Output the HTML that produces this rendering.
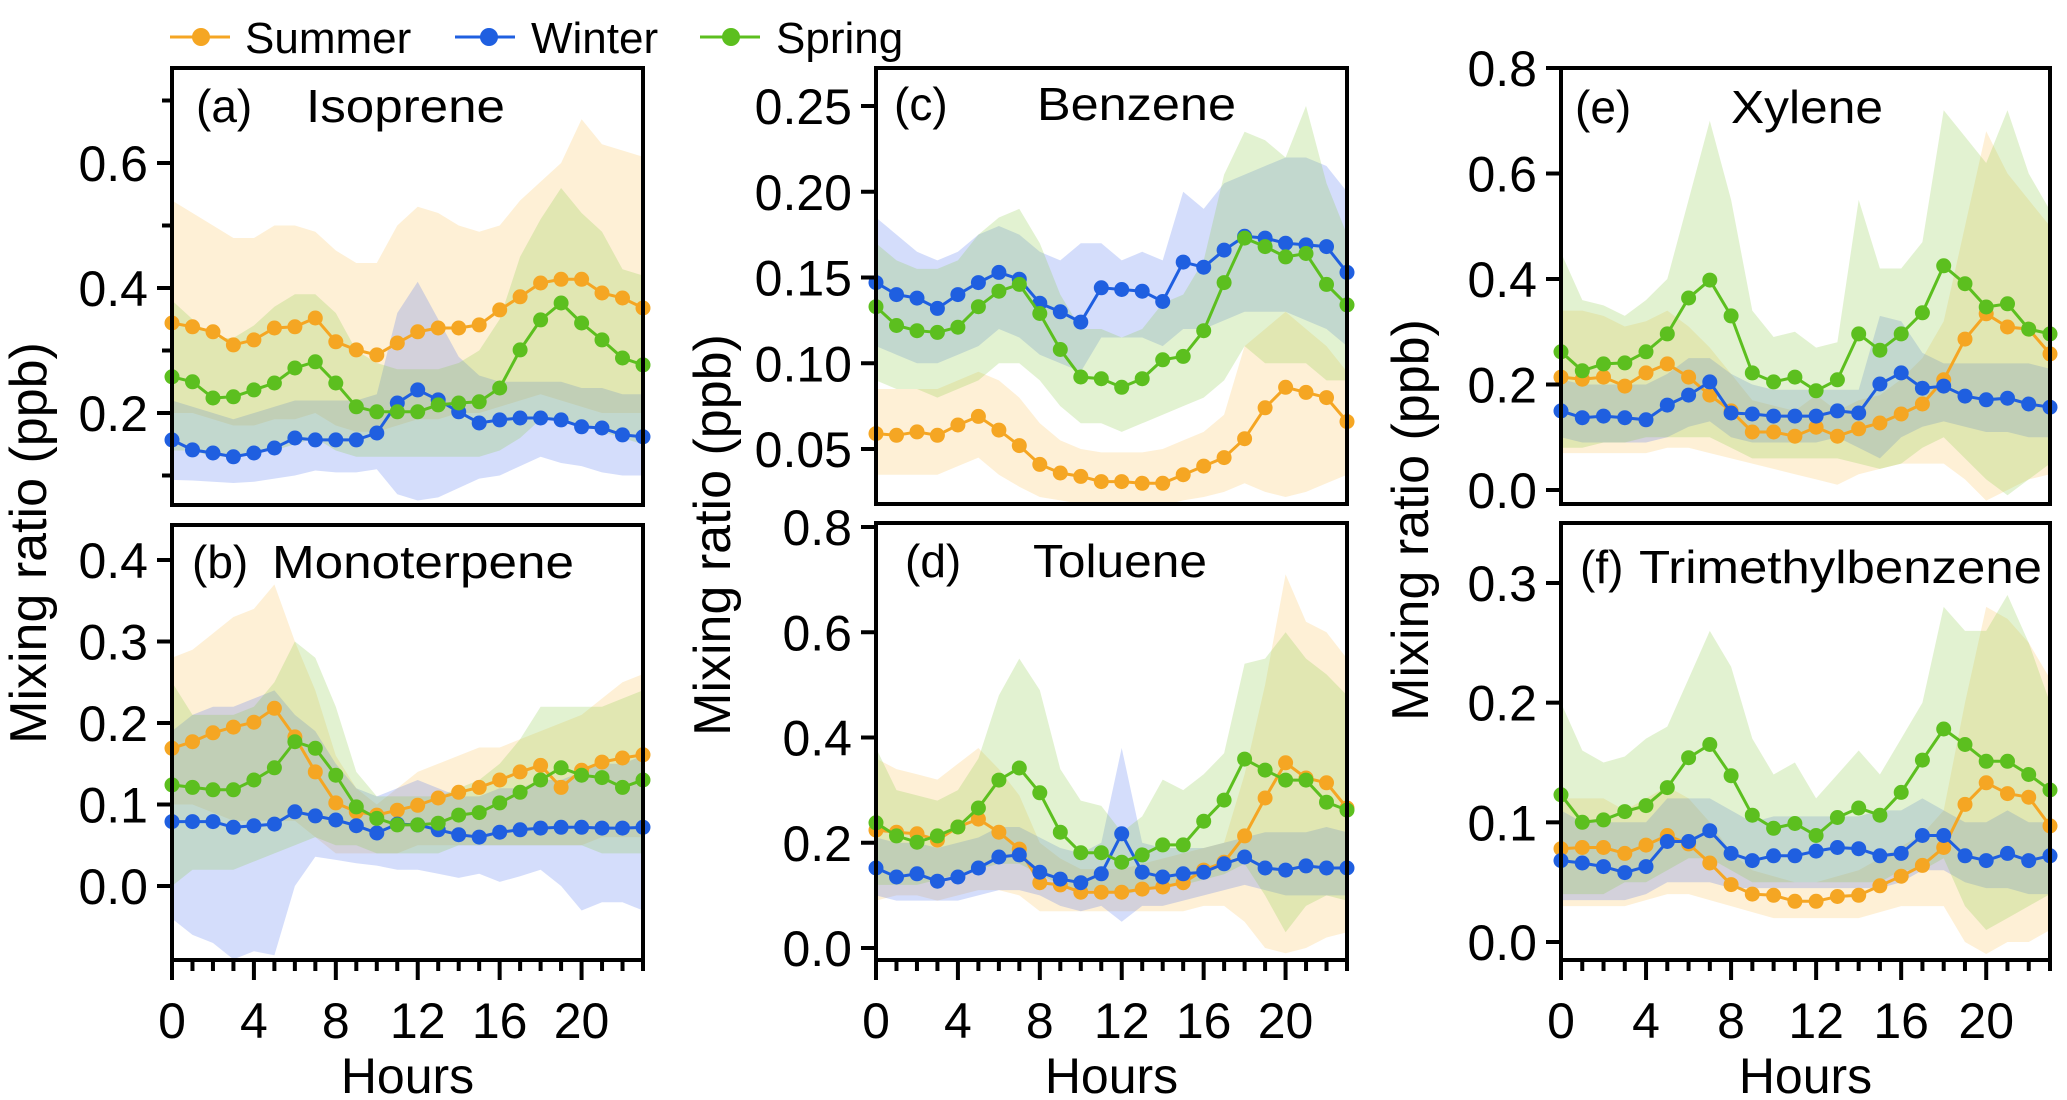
<!DOCTYPE html>
<html><head><meta charset="utf-8"><style>
html,body{margin:0;padding:0;background:#fff;}
svg{display:block;font-family:"Liberation Sans",Arial,sans-serif;}
</style></head><body>
<svg id="chart" width="2067" height="1100" viewBox="0 0 2067 1100" xmlns="http://www.w3.org/2000/svg">
<g id="legend">
  <g>
    <line x1="170" y1="37" x2="230" y2="37" stroke="#f5a623" stroke-width="3"/><circle cx="201" cy="37" r="9" fill="#f5a623"/>
    <text x="245" y="53" font-size="44">Summer</text></g>
  <g>
    <line x1="455" y1="37" x2="515" y2="37" stroke="#1f5fe0" stroke-width="3"/><circle cx="489" cy="37" r="9" fill="#1f5fe0"/>
    <text x="531" y="53" font-size="44">Winter</text></g>
  <g>
    <line x1="700" y1="37" x2="760" y2="37" stroke="#5cbf1f" stroke-width="3"/><circle cx="731" cy="37" r="9" fill="#5cbf1f"/>
    <text x="776" y="53" font-size="44">Spring</text></g>
</g>
<g id="plots"></g>
</svg>
<script>
const hours = [0,1,2,3,4,5,6,7,8,9,10,11,12,13,14,15,16,17,18,19,20,21,22,23];
const xTickLabels = ["0","4","8","12","16","20"];
const seriesNames = ["Summer","Winter","Spring"];

// (a) Isoprene
const isoSummer = [0.344,0.338,0.330,0.309,0.317,0.336,0.338,0.352,0.314,0.301,0.293,0.312,0.330,0.336,0.336,0.341,0.365,0.386,0.408,0.414,0.414,0.392,0.384,0.368];
const isoSummerHi = [0.54,0.52,0.50,0.48,0.48,0.50,0.50,0.49,0.46,0.44,0.44,0.50,0.53,0.52,0.50,0.49,0.50,0.54,0.57,0.60,0.67,0.63,0.62,0.61];
const isoSummerLo = [0.20,0.20,0.19,0.18,0.18,0.19,0.19,0.20,0.18,0.17,0.17,0.18,0.19,0.19,0.20,0.20,0.21,0.22,0.23,0.22,0.21,0.20,0.20,0.20];
const isoWinter = [0.157,0.141,0.136,0.130,0.136,0.144,0.160,0.157,0.157,0.157,0.168,0.216,0.237,0.221,0.202,0.184,0.189,0.192,0.192,0.189,0.178,0.176,0.165,0.162];
const isoWinterHi = [0.22,0.21,0.20,0.19,0.20,0.21,0.22,0.22,0.22,0.22,0.23,0.36,0.41,0.35,0.29,0.26,0.25,0.25,0.25,0.25,0.24,0.24,0.23,0.23];
const isoWinterLo = [0.093,0.092,0.090,0.088,0.090,0.095,0.100,0.108,0.105,0.105,0.11,0.07,0.06,0.065,0.08,0.095,0.10,0.115,0.13,0.12,0.115,0.105,0.10,0.10];
const isoSpring = [0.258,0.250,0.224,0.226,0.237,0.248,0.272,0.282,0.248,0.210,0.202,0.202,0.202,0.213,0.216,0.218,0.240,0.301,0.349,0.376,0.344,0.317,0.288,0.277];
const isoSpringHi = [0.38,0.35,0.32,0.32,0.34,0.37,0.39,0.39,0.36,0.30,0.28,0.27,0.27,0.27,0.28,0.30,0.35,0.45,0.51,0.56,0.52,0.49,0.43,0.42];
const isoSpringLo = [0.14,0.14,0.13,0.13,0.14,0.14,0.15,0.16,0.14,0.13,0.13,0.13,0.13,0.13,0.13,0.13,0.14,0.16,0.19,0.19,0.18,0.17,0.16,0.15];

// (b) Monoterpene
const monoSummer = [0.169,0.177,0.188,0.195,0.201,0.218,0.183,0.140,0.102,0.091,0.087,0.093,0.099,0.108,0.115,0.121,0.130,0.140,0.148,0.121,0.142,0.152,0.157,0.161];
const monoSummerHi = [0.28,0.29,0.31,0.33,0.34,0.37,0.30,0.24,0.16,0.12,0.10,0.12,0.14,0.15,0.16,0.17,0.17,0.18,0.19,0.20,0.21,0.23,0.25,0.26];
const monoSummerLo = [0.10,0.10,0.09,0.08,0.08,0.08,0.08,0.06,0.04,0.04,0.04,0.04,0.05,0.05,0.05,0.05,0.05,0.05,0.05,0.05,0.05,0.06,0.06,0.06];
const monoWinter = [0.079,0.079,0.079,0.072,0.074,0.076,0.091,0.086,0.081,0.074,0.065,0.076,0.075,0.069,0.063,0.060,0.066,0.069,0.071,0.072,0.072,0.071,0.071,0.072];
const monoWinterHi = [0.19,0.21,0.22,0.22,0.23,0.24,0.21,0.19,0.15,0.12,0.11,0.12,0.13,0.12,0.11,0.11,0.12,0.12,0.13,0.13,0.14,0.15,0.15,0.16];
const monoWinterLo = [-0.04,-0.06,-0.07,-0.09,-0.08,-0.085,0.0,0.036,0.032,0.028,0.025,0.02,0.02,0.015,0.01,0.015,0.005,0.012,0.02,0.0,-0.03,-0.02,-0.02,-0.03];
const monoSpring = [0.124,0.121,0.118,0.118,0.130,0.145,0.177,0.169,0.136,0.097,0.083,0.075,0.075,0.077,0.087,0.090,0.102,0.115,0.130,0.145,0.136,0.133,0.121,0.130];
const monoSpringHi = [0.25,0.21,0.21,0.21,0.22,0.25,0.30,0.28,0.22,0.14,0.11,0.11,0.11,0.11,0.12,0.13,0.15,0.18,0.22,0.22,0.22,0.22,0.23,0.24];
const monoSpringLo = [0.0,0.02,0.02,0.02,0.03,0.04,0.05,0.06,0.05,0.05,0.04,0.04,0.04,0.04,0.05,0.05,0.05,0.05,0.05,0.05,0.05,0.04,0.04,0.04];

// (c) Benzene
const benSummer = [0.059,0.058,0.060,0.058,0.064,0.069,0.061,0.052,0.041,0.036,0.034,0.031,0.031,0.030,0.030,0.035,0.040,0.045,0.056,0.074,0.086,0.083,0.080,0.066];
const benSummerHi = [0.085,0.085,0.085,0.085,0.09,0.095,0.09,0.08,0.065,0.055,0.05,0.048,0.048,0.048,0.05,0.055,0.06,0.07,0.11,0.12,0.13,0.12,0.11,0.095];
const benSummerLo = [0.035,0.035,0.035,0.035,0.04,0.045,0.035,0.028,0.022,0.02,0.018,0.016,0.016,0.016,0.017,0.02,0.022,0.025,0.03,0.025,0.022,0.025,0.03,0.035];
const benWinter = [0.147,0.140,0.138,0.132,0.140,0.147,0.153,0.149,0.135,0.130,0.124,0.144,0.143,0.142,0.136,0.159,0.156,0.166,0.174,0.173,0.170,0.169,0.168,0.153];
const benWinterHi = [0.185,0.175,0.165,0.16,0.165,0.175,0.18,0.175,0.165,0.16,0.17,0.17,0.16,0.165,0.16,0.20,0.19,0.205,0.21,0.215,0.22,0.22,0.215,0.20];
const benWinterLo = [0.11,0.105,0.10,0.10,0.105,0.11,0.12,0.115,0.105,0.10,0.095,0.115,0.115,0.115,0.11,0.12,0.12,0.125,0.13,0.13,0.13,0.125,0.12,0.11];
const benSpring = [0.133,0.122,0.119,0.118,0.121,0.133,0.142,0.146,0.129,0.108,0.092,0.091,0.086,0.091,0.102,0.104,0.119,0.147,0.173,0.168,0.162,0.164,0.146,0.134];
const benSpringHi = [0.17,0.16,0.155,0.155,0.16,0.175,0.185,0.19,0.17,0.14,0.12,0.12,0.115,0.12,0.135,0.14,0.16,0.21,0.235,0.23,0.22,0.25,0.205,0.175];
const benSpringLo = [0.09,0.085,0.085,0.08,0.085,0.09,0.10,0.10,0.09,0.075,0.065,0.065,0.06,0.065,0.07,0.075,0.08,0.09,0.11,0.10,0.10,0.10,0.09,0.09];

// (d) Toluene
const tolSummer = [0.224,0.220,0.217,0.205,0.230,0.245,0.220,0.188,0.124,0.120,0.106,0.106,0.106,0.112,0.116,0.124,0.148,0.163,0.213,0.285,0.352,0.323,0.314,0.266];
const tolSummerHi = [0.36,0.34,0.33,0.32,0.35,0.38,0.34,0.29,0.20,0.17,0.15,0.15,0.15,0.16,0.17,0.18,0.19,0.20,0.33,0.50,0.71,0.62,0.60,0.55];
const tolSummerLo = [0.09,0.10,0.10,0.09,0.10,0.11,0.11,0.10,0.07,0.07,0.07,0.07,0.07,0.07,0.07,0.07,0.08,0.08,0.05,0.00,-0.01,0.0,0.02,0.03];
const tolWinter = [0.152,0.135,0.141,0.127,0.135,0.152,0.173,0.177,0.144,0.131,0.124,0.141,0.217,0.144,0.135,0.141,0.144,0.160,0.173,0.152,0.148,0.156,0.152,0.152];
const tolWinterHi = [0.21,0.20,0.20,0.19,0.20,0.21,0.23,0.23,0.21,0.19,0.18,0.20,0.38,0.20,0.19,0.19,0.19,0.20,0.21,0.22,0.22,0.22,0.23,0.22];
const tolWinterLo = [0.10,0.09,0.09,0.09,0.09,0.10,0.11,0.11,0.10,0.08,0.07,0.08,0.05,0.08,0.08,0.09,0.10,0.11,0.12,0.11,0.10,0.10,0.10,0.10];
const tolSpring = [0.238,0.213,0.201,0.213,0.230,0.266,0.319,0.342,0.295,0.220,0.181,0.181,0.163,0.177,0.196,0.196,0.241,0.281,0.359,0.338,0.319,0.319,0.277,0.262];
const tolSpringHi = [0.38,0.30,0.29,0.28,0.30,0.36,0.48,0.55,0.49,0.34,0.28,0.27,0.22,0.25,0.32,0.30,0.33,0.37,0.54,0.55,0.60,0.55,0.52,0.48];
const tolSpringLo = [0.12,0.12,0.12,0.13,0.14,0.15,0.16,0.16,0.14,0.12,0.11,0.11,0.10,0.11,0.12,0.12,0.13,0.14,0.16,0.10,0.03,0.08,0.10,0.09];

// (e) Xylene
const xylSummer = [0.214,0.210,0.214,0.197,0.222,0.239,0.214,0.180,0.150,0.110,0.110,0.102,0.119,0.102,0.116,0.127,0.144,0.163,0.209,0.286,0.334,0.309,0.305,0.258];
const xylSummerHi = [0.34,0.34,0.33,0.31,0.32,0.34,0.31,0.27,0.22,0.17,0.16,0.15,0.18,0.15,0.17,0.18,0.21,0.25,0.32,0.50,0.68,0.60,0.55,0.50];
const xylSummerLo = [0.07,0.07,0.07,0.07,0.07,0.08,0.08,0.07,0.06,0.05,0.04,0.03,0.02,0.01,0.03,0.04,0.05,0.05,0.05,0.02,-0.02,0.0,0.02,0.03];
const xylWinter = [0.150,0.137,0.140,0.137,0.133,0.161,0.180,0.205,0.146,0.144,0.140,0.140,0.140,0.150,0.146,0.201,0.222,0.193,0.197,0.178,0.171,0.174,0.163,0.157];
const xylWinterHi = [0.21,0.20,0.20,0.20,0.20,0.22,0.25,0.25,0.22,0.20,0.19,0.19,0.19,0.19,0.19,0.33,0.32,0.26,0.24,0.24,0.24,0.24,0.24,0.23];
const xylWinterLo = [0.10,0.09,0.09,0.09,0.09,0.10,0.12,0.13,0.10,0.09,0.09,0.09,0.09,0.10,0.08,0.06,0.10,0.12,0.13,0.12,0.11,0.11,0.10,0.10];
const xylSpring = [0.262,0.226,0.239,0.241,0.262,0.296,0.364,0.398,0.330,0.222,0.205,0.214,0.188,0.209,0.296,0.265,0.296,0.336,0.425,0.391,0.347,0.353,0.305,0.296];
const xylSpringHi = [0.45,0.36,0.35,0.33,0.36,0.40,0.55,0.70,0.55,0.34,0.29,0.30,0.27,0.28,0.55,0.42,0.42,0.47,0.72,0.67,0.62,0.72,0.60,0.53];
const xylSpringLo = [0.08,0.08,0.09,0.09,0.10,0.10,0.10,0.10,0.08,0.06,0.06,0.06,0.06,0.06,0.05,0.04,0.05,0.08,0.10,0.06,0.02,-0.01,0.02,0.05];

// (f) Trimethylbenzene
const tmbSummer = [0.078,0.079,0.079,0.074,0.081,0.089,0.082,0.066,0.048,0.040,0.039,0.034,0.034,0.038,0.039,0.047,0.055,0.064,0.079,0.115,0.133,0.124,0.121,0.097];
const tmbSummerHi = [0.12,0.12,0.12,0.11,0.12,0.13,0.12,0.10,0.075,0.06,0.055,0.05,0.05,0.055,0.06,0.07,0.08,0.09,0.11,0.20,0.28,0.27,0.25,0.22];
const tmbSummerLo = [0.03,0.03,0.03,0.03,0.035,0.04,0.04,0.035,0.03,0.025,0.02,0.02,0.02,0.02,0.02,0.025,0.03,0.03,0.03,0.0,-0.01,0.0,0.0,0.01];
const tmbWinter = [0.068,0.066,0.063,0.058,0.063,0.084,0.084,0.093,0.074,0.068,0.072,0.072,0.076,0.079,0.078,0.072,0.074,0.089,0.089,0.072,0.068,0.074,0.068,0.072];
const tmbWinterHi = [0.11,0.10,0.10,0.10,0.10,0.12,0.12,0.12,0.11,0.10,0.105,0.105,0.105,0.105,0.105,0.11,0.11,0.12,0.11,0.10,0.10,0.11,0.10,0.10];
const tmbWinterLo = [0.035,0.035,0.035,0.035,0.04,0.05,0.05,0.05,0.045,0.045,0.045,0.045,0.045,0.045,0.045,0.045,0.05,0.06,0.06,0.05,0.045,0.045,0.04,0.04];
const tmbSpring = [0.123,0.100,0.102,0.109,0.114,0.129,0.154,0.165,0.139,0.106,0.095,0.099,0.089,0.104,0.112,0.106,0.125,0.152,0.178,0.165,0.151,0.151,0.140,0.127];
const tmbSpringHi = [0.20,0.16,0.15,0.155,0.17,0.18,0.22,0.26,0.23,0.17,0.14,0.15,0.12,0.14,0.16,0.14,0.17,0.20,0.28,0.26,0.26,0.29,0.25,0.20];
const tmbSpringLo = [0.04,0.04,0.04,0.05,0.05,0.06,0.07,0.07,0.06,0.05,0.05,0.05,0.05,0.05,0.05,0.05,0.06,0.06,0.07,0.03,0.01,0.02,0.03,0.04];

// y tick values per panel
const ticksA = [0.2,0.4,0.6];
const minorA = [0.1,0.3,0.5,0.7];
const ticksB = [0.0,0.1,0.2,0.3,0.4];
const ticksC = [0.05,0.10,0.15,0.20,0.25];
const ticksD = [0.0,0.2,0.4,0.6,0.8];
const ticksE = [0.0,0.2,0.4,0.6,0.8];
const ticksF = [0.0,0.1,0.2,0.3];

const NS = "http://www.w3.org/2000/svg";
const COL = {Summer:"#f5a623", Winter:"#1f5fe0", Spring:"#5cbf1f"};
const BAND = {Summer:"rgba(251,185,70,0.22)", Winter:"rgba(60,100,235,0.22)", Spring:"rgba(140,205,70,0.25)"};

function mk(tag, attrs, parent){
  const e = document.createElementNS(NS, tag);
  for (const k in attrs) e.setAttribute(k, attrs[k]);
  parent.appendChild(e);
  return e;
}

const panels = [
  {id:"a", title:"Isoprene", label:"(a)", x0:172, x1:643, top:68, bottom:505, v1:0.2, p1:413, v2:0.6, p2:163, ticks:ticksA, minor:minorA, dec:1, xaxis:false,
   lx:196, tx:306, tw:199, ty:122, data:[[isoSummer,isoSummerLo,isoSummerHi],[isoWinter,isoWinterLo,isoWinterHi],[isoSpring,isoSpringLo,isoSpringHi]]},
  {id:"b", title:"Monoterpene", label:"(b)", x0:172, x1:643, top:525, bottom:960, v1:0.0, p1:886, v2:0.4, p2:560, ticks:ticksB, minor:[], dec:1, xaxis:true,
   lx:192, tx:272, tw:302, ty:578, data:[[monoSummer,monoSummerLo,monoSummerHi],[monoWinter,monoWinterLo,monoWinterHi],[monoSpring,monoSpringLo,monoSpringHi]]},
  {id:"c", title:"Benzene", label:"(c)", x0:876, x1:1347, top:68, bottom:504, v1:0.05, p1:449, v2:0.25, p2:106, ticks:ticksC, minor:[], dec:2, xaxis:false,
   lx:894, tx:1037, tw:199, ty:120, data:[[benSummer,benSummerLo,benSummerHi],[benWinter,benWinterLo,benWinterHi],[benSpring,benSpringLo,benSpringHi]]},
  {id:"d", title:"Toluene", label:"(d)", x0:876, x1:1347, top:523, bottom:960, v1:0.0, p1:948, v2:0.8, p2:527, ticks:ticksD, minor:[], dec:1, xaxis:true,
   lx:905, tx:1033, tw:174, ty:577, data:[[tolSummer,tolSummerLo,tolSummerHi],[tolWinter,tolWinterLo,tolWinterHi],[tolSpring,tolSpringLo,tolSpringHi]]},
  {id:"e", title:"Xylene", label:"(e)", x0:1561, x1:2050, top:68, bottom:504, v1:0.0, p1:490, v2:0.8, p2:68, ticks:ticksE, minor:[], dec:1, xaxis:false,
   lx:1575, tx:1731, tw:152, ty:123, data:[[xylSummer,xylSummerLo,xylSummerHi],[xylWinter,xylWinterLo,xylWinterHi],[xylSpring,xylSpringLo,xylSpringHi]]},
  {id:"f", title:"Trimethylbenzene", label:"(f)", x0:1561, x1:2050, top:523, bottom:960, v1:0.0, p1:942, v2:0.3, p2:583, ticks:ticksF, minor:[], dec:1, xaxis:true,
   lx:1580, tx:1639, tw:403, ty:583, data:[[tmbSummer,tmbSummerLo,tmbSummerHi],[tmbWinter,tmbWinterLo,tmbWinterHi],[tmbSpring,tmbSpringLo,tmbSpringHi]]}
];

const root = document.getElementById("plots");
const defs = mk("defs", {}, root);

panels.forEach(p => {
  const xs = h => p.x0 + (p.x1 - p.x0) * h / 23;
  const ys = v => p.p1 + (v - p.v1) * (p.p2 - p.p1) / (p.v2 - p.v1);
  const g = mk("g", {}, root);
  
  
  const cp = mk("clipPath", {id:"clip-" + p.id}, defs);
  mk("rect", {x:p.x0, y:p.top, width:p.x1 - p.x0, height:p.bottom - p.top}, cp);

  const bands = mk("g", {"clip-path":"url(#clip-" + p.id + ")"}, g);
  
  
  p.data.forEach((s, i) => {
    const name = seriesNames[i];
    let d = "";
    hours.forEach((h, j) => { d += (j ? "L" : "M") + xs(h).toFixed(1) + "," + ys(s[2][j]).toFixed(1); });
    for (let j = hours.length - 1; j >= 0; j--) d += "L" + xs(hours[j]).toFixed(1) + "," + ys(s[1][j]).toFixed(1);
    const band = mk("path", {d: d + "Z", fill: BAND[name]}, bands);
    
    
  });

  [0, 1, 2].forEach(i => {
    const name = seriesNames[i];
    const s = p.data[i][0];
    const sg = mk("g", {}, g);
    
    
    const pts = hours.map((h, j) => xs(h).toFixed(1) + "," + ys(s[j]).toFixed(1)).join(" ");
    mk("polyline", {points: pts, fill: "none", stroke: COL[name], "stroke-width": 3}, sg);
    hours.forEach((h, j) => {
      const c = mk("circle", {cx: xs(h).toFixed(1), cy: ys(s[j]).toFixed(1), r: 7.5, fill: COL[name]}, sg);
      
      
    });
  });

  const frame = mk("rect", {x:p.x0, y:p.top, width:p.x1 - p.x0, height:p.bottom - p.top, fill:"none", stroke:"#000", "stroke-width":4}, g);
  
  

  const ya = mk("g", {}, g);
  
  
  p.ticks.forEach(v => {
    const y = ys(v);
    mk("line", {x1:p.x0 - 15, y1:y, x2:p.x0, y2:y, stroke:"#000", "stroke-width":4}, ya);
    const t = mk("text", {x:p.x0 - 24, y:y + 18, "font-size":50, "text-anchor":"end"}, ya);
    t.textContent = v.toFixed(p.dec);
    
    
  });
  p.minor.forEach(v => {
    const y = ys(v);
    mk("line", {x1:p.x0 - 10, y1:y, x2:p.x0, y2:y, stroke:"#000", "stroke-width":4}, ya);
  });

  if (p.xaxis) {
    const xa = mk("g", {}, g);
    
    
    hours.forEach(h => {
      const major = h % 4 === 0;
      mk("line", {x1:xs(h), y1:p.bottom, x2:xs(h), y2:p.bottom + (major ? 20 : 11), stroke:"#000", "stroke-width":4}, xa);
    });
    xTickLabels.forEach(lbl => {
      const t = mk("text", {x:xs(+lbl), y:1038, "font-size":50, "text-anchor":"middle"}, xa);
      t.textContent = lbl;
      
      
    });
    const ht = mk("text", {x:(p.x0 + p.x1) / 2, y:1093, "font-size":50, "text-anchor":"middle"}, xa);
    ht.textContent = "Hours";
    
    
  }

  const lt = mk("text", {x:p.lx, y:p.ty, "font-size":46}, g);
  lt.textContent = p.label;
  
  
  const tt = mk("text", {x:p.tx, y:p.ty, "font-size":46, textLength:p.tw, lengthAdjust:"spacingAndGlyphs"}, g);
  tt.textContent = p.title;
  
  
});

[[29, 543], [713, 535], [1411, 520]].forEach(([x, y]) => {
  const t = mk("text", {x:x, y:y, "font-size":52, "text-anchor":"middle", transform:"rotate(-90 " + x + " " + y + ")", "dominant-baseline":"central"}, root);
  t.textContent = "Mixing ratio (ppb)";
  
  
});
</script>
</body></html>
